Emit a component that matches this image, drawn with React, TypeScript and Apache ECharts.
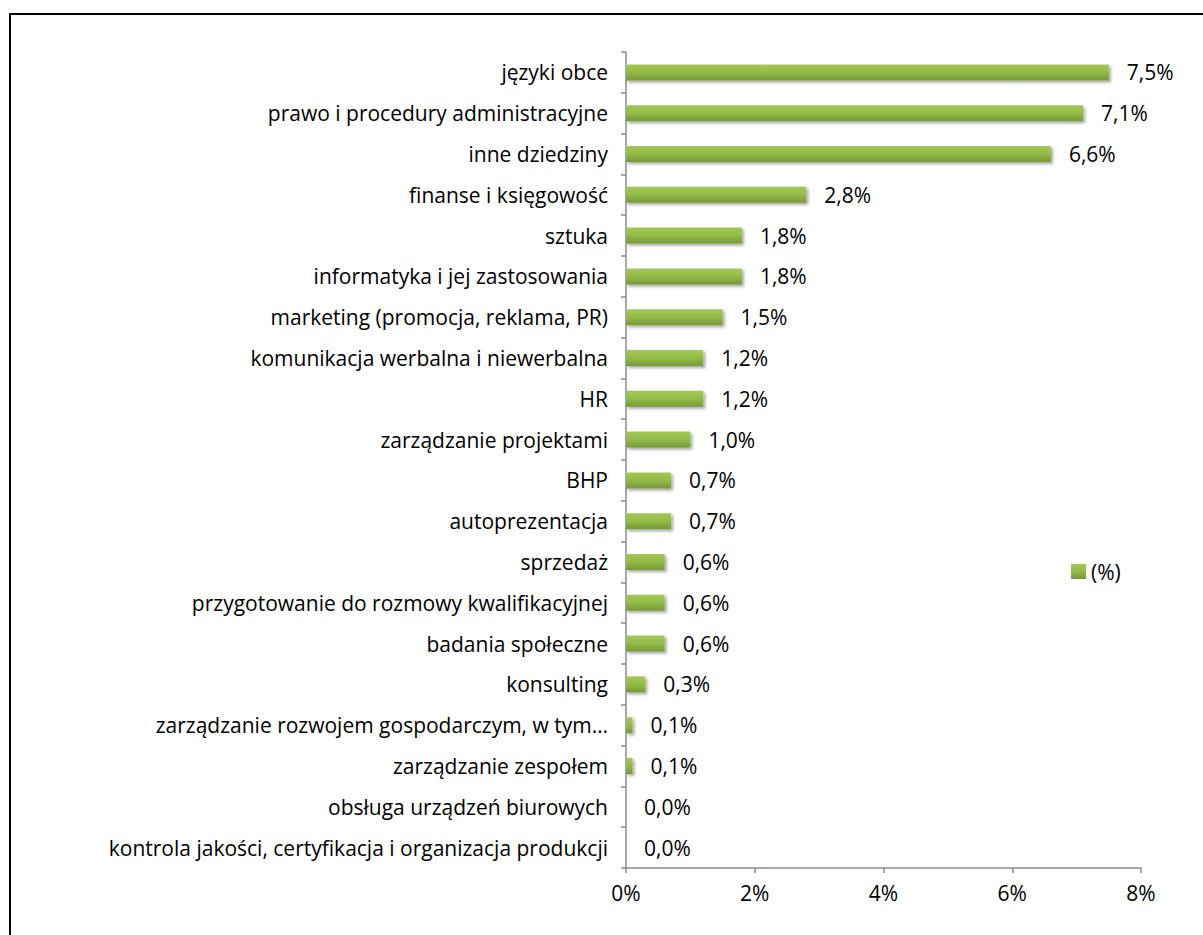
import React, { useEffect, useRef } from "react";
import * as echarts from "echarts";

const categories = [
  "języki obce",
  "prawo i procedury administracyjne",
  "inne dziedziny",
  "finanse i księgowość",
  "sztuka",
  "informatyka i jej zastosowania",
  "marketing (promocja, reklama, PR)",
  "komunikacja werbalna i niewerbalna",
  "HR",
  "zarządzanie projektami",
  "BHP",
  "autoprezentacja",
  "sprzedaż",
  "przygotowanie do rozmowy kwalifikacyjnej",
  "badania społeczne",
  "konsulting",
  "zarządzanie rozwojem gospodarczym, w tym…",
  "zarządzanie zespołem",
  "obsługa urządzeń biurowych",
  "kontrola jakości, certyfikacja i organizacja produkcji",
];

const values = [7.5, 7.1, 6.6, 2.8, 1.8, 1.8, 1.5, 1.2, 1.2, 1.0, 0.7, 0.7, 0.6, 0.6, 0.6, 0.3, 0.1, 0.1, 0.0, 0.0];

const seriesName = "(%)";

const FONT = "Open Sans";
const FS = 21;

export default function App() {
  const ref = useRef<HTMLDivElement>(null);

  useEffect(() => {
    document.body.style.margin = "0";
    const chart = echarts.init(ref.current!, null, { renderer: "svg" });
    const barGrad = new echarts.graphic.LinearGradient(0, 0, 0, 1, [
      { offset: 0, color: "#a2c956" },
      { offset: 0.5, color: "#93bb47" },
      { offset: 1, color: "#76983a" },
    ]);
    chart.setOption({
      animation: false,
      backgroundColor: "#ffffff",
      textStyle: { fontFamily: FONT },
      graphic: [
        {
          type: "rect",
          shape: { x: 10, y: 14, width: 1200, height: 930 },
          style: { fill: "none", stroke: "#000", lineWidth: 2 },
          silent: true,
        },
      ],
      legend: {
        left: 1071,
        top: 561,
        padding: 0,
        orient: "vertical",
        itemWidth: 15,
        itemHeight: 15,
        itemGap: 6,
        icon: "rect",
        textStyle: { fontSize: FS, color: "#000", fontFamily: FONT, padding: [0, 0, 0, 0] },
        data: [seriesName],
      },
      grid: { left: 626, right: 62, top: 52, bottom: 67, containLabel: false },
      xAxis: {
        type: "value",
        min: 0,
        max: 8,
        interval: 2,
        axisLine: { show: true, lineStyle: { color: "#8c8c8c", width: 1.5 } },
        axisTick: { show: true, length: 5, lineStyle: { color: "#8c8c8c", width: 1.5 } },
        splitLine: { show: false },
        axisLabel: {
          formatter: "{value}%",
          fontSize: FS,
          color: "#000",
          margin: 14,
          fontFamily: FONT,
        },
      },
      yAxis: {
        type: "category",
        data: categories,
        inverse: true,
        axisLine: { show: true, lineStyle: { color: "#8c8c8c", width: 1.5 } },
        axisTick: { show: true, length: 5, alignWithLabel: false, lineStyle: { color: "#8c8c8c", width: 1.5 } },
        axisLabel: { fontSize: FS, color: "#000", margin: 18, fontFamily: FONT },
      },
      series: [
        {
          name: seriesName,
          type: "bar",
          data: values,
          barWidth: 16,
          itemStyle: {
            color: barGrad,
            shadowColor: "rgba(0,0,0,0.35)",
            shadowBlur: 3,
            shadowOffsetX: 2,
            shadowOffsetY: 2,
          },
          label: {
            show: true,
            position: "right",
            distance: 18,
            fontSize: FS,
            color: "#000",
            fontFamily: FONT,
            formatter: (p: any) => p.value.toFixed(1).replace(".", ",") + "%",
          },
        },
      ],
    });
    return () => chart.dispose();
  }, []);

  return <div ref={ref} style={{ width: 1203, height: 935 }} />;
}
